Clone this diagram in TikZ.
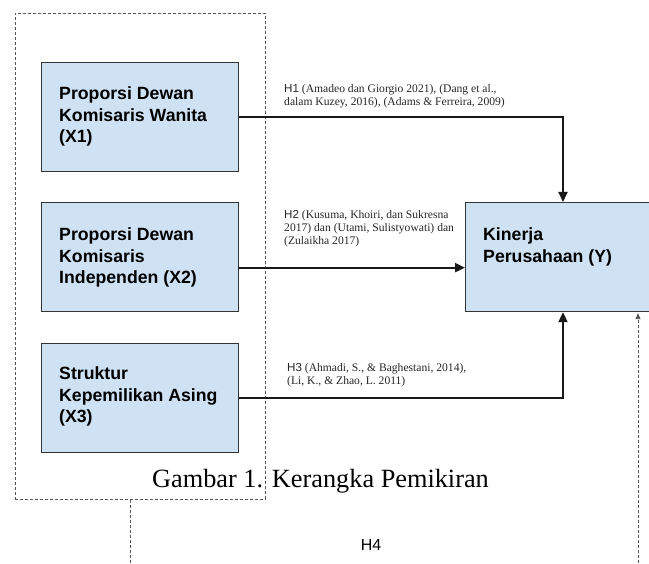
\documentclass[tikz,border=0pt]{standalone}
\usepackage{fontspec}
\setmainfont{Liberation Serif}
\setsansfont{Liberation Sans}
\usetikzlibrary{arrows.meta,calc}
\definecolor{boxfill}{HTML}{CFE2F3}
\definecolor{boxline}{HTML}{333333}
\definecolor{dashcol}{HTML}{555555}
\begin{document}
\begin{tikzpicture}[x=1pt,y=-1pt,
  varbox/.style={draw=boxline, line width=1.2pt, fill=boxfill, minimum width=197pt, minimum height=109pt, inner sep=0pt, anchor=north west},
  boxtext/.style={font=\sffamily\bfseries\fontsize{17.7}{21.5}\selectfont, align=left, anchor=base west, inner sep=0pt},
  frame/.style={draw=dashcol, line width=0.9pt, dash pattern=on 3pt off 2pt, minimum width=250pt, minimum height=486pt, inner sep=0pt, anchor=north west},
  arr/.style={line width=2pt, draw=black!90, -{Triangle[length=10pt,width=9pt]}},
  hfour/.style={line width=0.9pt, draw=dashcol, dash pattern=on 3pt off 2pt, -{Triangle[length=6pt,width=5pt]}},
  lab/.style={font=\fontsize{11.6}{13.2}\selectfont, text=black!85, align=left, anchor=base west, inner sep=0pt}
]
\useasboundingbox (0,0) rectangle (649,564);
\clip (0,0) rectangle (649,564);

% dashed frame around independent variables
\node[frame] (frame) at (15,13) {};

% boxes
\node[varbox] (X1) at (41,62) {};
\node[varbox] (X2) at (41,202) {};
\node[varbox] (X3) at (41,343) {};
\node[varbox, minimum width=220pt] (Y) at (465,202) {};

% text (base anchor = baseline of last line)
\node[boxtext] (t1) at ($(X1.north west)+(18,81)$) {Proporsi Dewan\\Komisaris Wanita\\(X1)};
\node[boxtext] (t2) at ($(X2.north west)+(18,82)$) {Proporsi Dewan\\Komisaris\\Independen (X2)};
\node[boxtext] (t3) at ($(X3.north west)+(18,80)$) {Struktur\\Kepemilikan Asing\\(X3)};
\node[boxtext] (ty) at ($(Y.north west)+(18,60.5)$) {Kinerja\\Perusahaan (Y)};

% connectors
\coordinate (cx) at (563,0);
\coordinate (p2) at ($(X2.south east)!0.404!(X2.north east)$);
\draw[arr] (X1.east) -| (cx |- Y.north);
\draw[arr] (p2) -- (p2 -| Y.west);
\draw[arr] (X3.east) -| (cx |- Y.south);

% H4 dashed connector
\coordinate (h4l) at (130,0);
\coordinate (h4r) at (638,0);
\coordinate (low) at (0,590);
\draw[hfour] (frame.south -| h4l) -- (h4l |- low) -- (h4r |- low) -- ($(h4r |- Y.south)+(0,1)$);

% labels (base anchor = baseline of last line)
\node[lab] (l1) at (284,106) {\textsf{H1} (Amadeo dan Giorgio 2021), (Dang et al.,\\dalam Kuzey, 2016), (Adams \& Ferreira, 2009)};
\node[lab] (l2) at (284,244.5) {\textsf{H2} (Kusuma, Khoiri, dan Sukresna\\2017) dan (Utami, Sulistyowati) dan\\(Zulaikha 2017)};
\node[lab] (l3) at (287,384.5) {\textsf{H3} (Ahmadi, S., \& Baghestani, 2014),\\(Li, K., \& Zhao, L. 2011)};

% caption and H4
\node[font=\fontsize{26.3}{30}\selectfont, anchor=base west, inner sep=0pt] (cap) at (152,488) {Gambar 1. Kerangka Pemikiran};
\node[font=\sffamily\fontsize{16}{18}\selectfont, inner sep=0pt] (h4) at (371,545) {H4};
\end{tikzpicture}
\end{document}
